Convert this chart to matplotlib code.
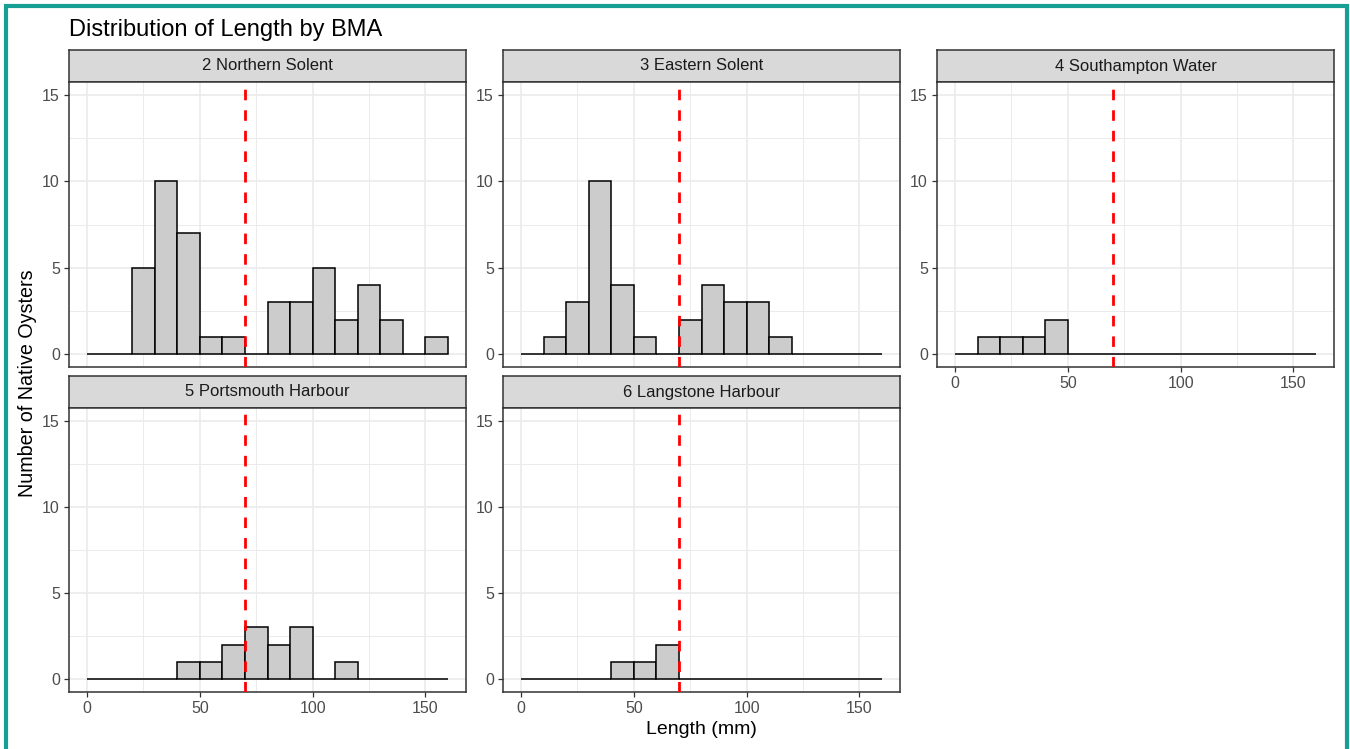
"""Distribution of native oyster length by BMA, faceted histograms."""

import matplotlib

matplotlib.use("Agg")
import matplotlib.pyplot as plt
from matplotlib.patches import Rectangle
from matplotlib.ticker import MultipleLocator

plt.rcParams["font.family"] = ["Liberation Sans", "DejaVu Sans"]

# histogram bins: 0-10, 10-20, ..., 150-160 mm
bin_left = list(range(0, 160, 10))
bin_width = 10

panel_titles = [
    "2 Northern Solent",
    "3 Eastern Solent",
    "4 Southampton Water",
    "5 Portsmouth Harbour",
    "6 Langstone Harbour",
]
northern_solent = [0, 0, 5, 10, 7, 1, 1, 0, 3, 3, 5, 2, 4, 2, 0, 1]
eastern_solent = [0, 1, 3, 10, 4, 1, 0, 2, 4, 3, 3, 1, 0, 0, 0, 0]
southampton_water = [0, 1, 1, 1, 2, 0, 0, 0, 0, 0, 0, 0, 0, 0, 0, 0]
portsmouth_harbour = [0, 0, 0, 0, 1, 1, 2, 3, 2, 3, 0, 1, 0, 0, 0, 0]
langstone_harbour = [0, 0, 0, 0, 1, 1, 2, 0, 0, 0, 0, 0, 0, 0, 0, 0]
counts = [northern_solent, eastern_solent, southampton_water, portsmouth_harbour, langstone_harbour]

min_size = 70
x_ticks = [0, 50, 100, 150]
y_ticks = [0, 5, 10, 15]

W, H = 1350, 749
TICK_COLOR = "#4D4D4D"
BORDER = "#333333"


def _axes_px(fig, x0, y0, x1, y1):
    return fig.add_axes([x0 / W, 1 - y1 / H, (x1 - x0) / W, (y1 - y0) / H])


def main() -> None:
    fig = plt.figure(figsize=(W / 100, H / 100), dpi=100)
    fig.patch.set_facecolor("white")

    cols = [(69, 466), (503, 900), (937, 1334)]
    rows = [(50, 82, 367), (376, 408, 692)]
    slots = [(0, 0), (0, 1), (0, 2), (1, 0), (1, 1)]

    for idx, (r, c) in enumerate(slots):
        x0, x1 = cols[c]
        s0, p0, p1 = rows[r]

        strip = _axes_px(fig, x0, s0, x1, p0)
        strip.set_facecolor("#D9D9D9")
        strip.set_xticks([])
        strip.set_yticks([])
        for sp in strip.spines.values():
            sp.set_color(BORDER)
            sp.set_linewidth(1.1)
        strip.text(0.5, 0.5, panel_titles[idx], ha="center", va="center",
                   fontsize=12, color="#1A1A1A", transform=strip.transAxes)

        ax = _axes_px(fig, x0, p0, x1, p1)
        ax.bar(bin_left, counts[idx], width=bin_width, align="edge",
               color="#CCCCCC", edgecolor="black", linewidth=1.1, zorder=3)
        ax.axvline(min_size, color="red", linewidth=2, linestyle=(0, (3.8, 3.6)), zorder=4)

        ax.set_xlim(-8, 168)
        ax.set_ylim(-0.75, 15.75)
        ax.set_xticks(x_ticks)
        ax.set_yticks(y_ticks)
        ax.xaxis.set_minor_locator(MultipleLocator(25))
        ax.yaxis.set_minor_locator(MultipleLocator(2.5))
        ax.grid(True, which="major", color="#EBEBEB", linewidth=1.2, zorder=0)
        ax.grid(True, which="minor", color="#EBEBEB", linewidth=0.7, zorder=0)
        ax.set_axisbelow(True)
        ax.tick_params(which="minor", length=0)
        ax.tick_params(which="major", length=3.5, width=0.9, color=BORDER,
                       labelsize=11.5, labelcolor=TICK_COLOR, pad=3)
        for sp in ax.spines.values():
            sp.set_color(BORDER)
            sp.set_linewidth(1.1)
        # only bottom-most panel of each column shows the x axis
        if r == 0 and c < 2:
            ax.tick_params(axis="x", which="major", length=0, labelbottom=False)

    fig.text(69 / W, 1 - 30 / H, "Distribution of Length by BMA", ha="left", va="center",
             fontsize=17, color="black")
    fig.text(701 / W, 1 - 730 / H, "Length (mm)", ha="center", va="center",
             fontsize=14, color="black")
    fig.text(28 / W, 1 - 383 / H, "Number of Native Oysters", ha="center", va="center",
             rotation=90, fontsize=14.2, color="black")

    # teal frame around the figure (bottom edge runs off the image)
    frame = Rectangle((6 / W, -0.05), (1347 - 6) / W, 1.05 - 6 / H, transform=fig.transFigure,
                      fill=False, edgecolor="#16A095", linewidth=3, clip_on=False)
    fig.patches.append(frame)

    fig.savefig("out.png", dpi=100)
    plt.close(fig)


if __name__ == "__main__":
    main()
